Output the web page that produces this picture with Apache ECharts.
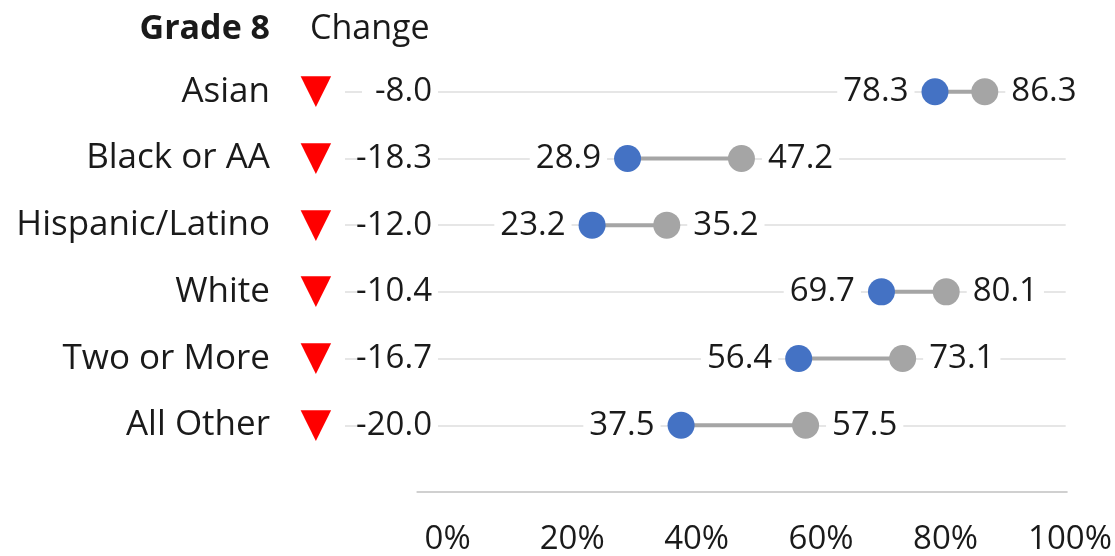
<!DOCTYPE html>
<html>
<head>
<meta charset="utf-8">
<script src="https://cdn.jsdelivr.net/npm/echarts@6/dist/echarts.min.js"></script>
<style>
  html, body { margin: 0; background: #fff; }
  #main { width: 1115px; height: 556px; }
</style>
</head>
<body>
<div id="main"></div>
<script>
var categories = ['Asian', 'Black or AA', 'Hispanic/Latino', 'White', 'Two or More', 'All Other'];
var scoreNow = [78.3, 28.9, 23.2, 69.7, 56.4, 37.5];   // blue
var scoreBefore = [86.3, 47.2, 35.2, 80.1, 73.1, 57.5]; // gray
var changes = ['-8.0', '-18.3', '-12.0', '-10.4', '-16.7', '-20.0'];
var xTicks = [0, 20, 40, 60, 80, 100];

var FONT = 'Open Sans';
var TXT = '#1a1a1a';

// connecting bars, one line per row
var rowLines = categories.map(function (c, i) {
    return {
        type: 'line',
        data: [[scoreNow[i], i], [scoreBefore[i], i]],
        symbol: 'none',
        silent: true,
        z: 2,
        lineStyle: { color: '#a5a5a5', width: 4 }
    };
});

// light grid lines + bottom axis line
var gridLines = categories.map(function (c, i) {
    return [{ coord: [-16.5, i] }, { coord: [99.3, i] }];
});
gridLines.push([
    { coord: [-5, categories.length], lineStyle: { color: '#d0d0d0', width: 2 } },
    { coord: [99.6, categories.length] }
]);
rowLines[0].markLine = {
    silent: true,
    symbol: ['none', 'none'],
    label: { show: false },
    z: 1,
    animation: false,
    lineStyle: { color: '#dedede', width: 1.5, type: 'solid' },
    data: gridLines
};

function dotLabel(pos) {
    return {
        show: true,
        position: pos,
        distance: 7,
        padding: [0, 6],
        backgroundColor: '#fff',
        fontSize: 33,
        fontFamily: FONT,
        color: TXT,
        formatter: function (p) { return p.value[0].toFixed(1); }
    };
}

var option = {
    animation: false,
    grid: { left: 345, right: 42, top: 25, bottom: 64 },
    xAxis: {
        type: 'value',
        min: -16.5,
        max: 100,
        axisLine: { show: false },
        axisTick: { show: false },
        splitLine: { show: false },
        axisLabel: {
            customValues: xTicks,
            formatter: '{value}%',
            margin: 31,
            fontSize: 33,
            fontFamily: FONT,
            color: TXT
        }
    },
    yAxis: {
        type: 'value',
        inverse: true,
        min: -1,
        max: categories.length,
        interval: 1,
        offset: -93,
        z: 10,
        axisLine: { show: false },
        axisTick: { show: false },
        splitLine: { show: false },
        axisLabel: {
            margin: 0,
            formatter: function (v) {
                if (v === -1) return '{h|Grade 8}{sp| }{hc|Change}';
                if (v >= 0 && v < categories.length) {
                    return '{n|' + categories[v] + '}{t|▼}{c|' + changes[v] + '}{e| }';
                }
                return '';
            },
            rich: {
                n: { align: 'left', fontSize: 35, fontFamily: FONT, color: TXT },
                t: { width: 92, align: 'center', fontSize: 40, fontFamily: 'DejaVu Sans', color: '#ff0000' },
                c: { width: 70, align: 'right', fontSize: 33, fontFamily: FONT, color: TXT, backgroundColor: '#fff' },
                e: { width: 6, align: 'right', fontSize: 33, backgroundColor: '#fff' },
                h: { align: 'left', fontSize: 34, fontFamily: FONT, fontWeight: 'bold', color: TXT, padding: [8, 0, 0, 0] },
                sp: { width: 40, align: 'left', fontSize: 33, padding: [8, 0, 0, 0] },
                hc: { width: 128, align: 'left', fontSize: 34, fontFamily: FONT, color: TXT, padding: [8, 0, 0, 0] }
            }
        }
    },
    series: rowLines.concat([
        {
            type: 'scatter',
            name: 'Before',
            z: 3,
            symbolSize: 27,
            itemStyle: { color: '#a5a5a5', opacity: 1 },
            label: dotLabel('right'),
            data: scoreBefore.map(function (v, i) { return [v, i]; })
        },
        {
            type: 'scatter',
            name: 'Now',
            z: 3,
            symbolSize: 27,
            itemStyle: { color: '#4472c4', opacity: 1 },
            label: dotLabel('left'),
            data: scoreNow.map(function (v, i) { return [v, i]; })
        }
    ])
};

echarts.init(document.getElementById('main')).setOption(option);
</script>
</body>
</html>
